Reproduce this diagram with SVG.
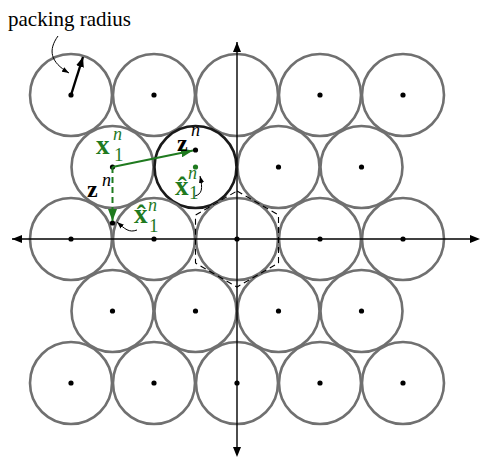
<svg xmlns="http://www.w3.org/2000/svg" width="491" height="468" viewBox="0 0 491 468">
<defs>
<style>
.c{fill:none;stroke:#707070;stroke-width:2.6}
.hl{fill:none;stroke:#1a1a1a;stroke-width:2.6}
.d{fill:#000}
.ax{stroke:#000;stroke-width:1.4;fill:none}
text{font-family:"Liberation Serif","Times New Roman","DejaVu Serif",serif}
.lbl{font-size:21px;fill:#000}
.m{font-weight:bold;font-size:27px}
.mz{font-weight:bold;font-size:24px}
.g{fill:#1f7a1f}
.k{fill:#000}
.sup{font-style:italic;font-size:18px}
.sub{font-size:19px}
</style>
<marker id="ah" viewBox="0 0 10 8" refX="10" refY="4" markerWidth="10" markerHeight="8" markerUnits="userSpaceOnUse" orient="auto"><path d="M0,0 L10,4 L0,8 Z" fill="#000"/></marker>
<marker id="ahs" viewBox="0 0 8 6" refX="8" refY="3" markerWidth="7" markerHeight="6" markerUnits="userSpaceOnUse" orient="auto"><path d="M0,0 L8,3 L0,6 Z" fill="#000"/></marker>
<marker id="ahg" viewBox="0 0 12 9" refX="12" refY="4.5" markerWidth="12" markerHeight="9" markerUnits="userSpaceOnUse" orient="auto"><path d="M0,0 L12,4.5 L0,9 Z" fill="#1f7a1f"/></marker>
</defs>

<g id="lattice">
<g id="row1">
<circle class="c" cx="71" cy="95" r="41"/><circle class="c" cx="154" cy="95" r="41"/><circle class="c" cx="237" cy="95" r="41"/><circle class="c" cx="320" cy="95" r="41"/><circle class="c" cx="403" cy="95" r="41"/>
</g>
<g id="row2">
<circle class="c" cx="112.5" cy="167" r="41"/><circle class="hl" cx="195.5" cy="167" r="41"/><circle class="c" cx="278.5" cy="167" r="41"/><circle class="c" cx="361.5" cy="167" r="41"/>
</g>
<g id="row3">
<circle class="c" cx="71" cy="239" r="41"/><circle class="c" cx="154" cy="239" r="41"/><circle class="c" cx="237" cy="239" r="41"/><circle class="c" cx="320" cy="239" r="41"/><circle class="c" cx="403" cy="239" r="41"/>
</g>
<g id="row4">
<circle class="c" cx="112.5" cy="311" r="41"/><circle class="c" cx="195.5" cy="311" r="41"/><circle class="c" cx="278.5" cy="311" r="41"/><circle class="c" cx="361.5" cy="311" r="41"/>
</g>
<g id="row5">
<circle class="c" cx="71" cy="383" r="41"/><circle class="c" cx="154" cy="383" r="41"/><circle class="c" cx="237" cy="383" r="41"/><circle class="c" cx="320" cy="383" r="41"/><circle class="c" cx="403" cy="383" r="41"/>
</g>
</g>

<g id="voronoi">
<polygon points="237,191 278.5,215 278.5,263 237,287 195.5,263 195.5,215" fill="none" stroke="#000" stroke-width="1.1" stroke-dasharray="6,4"/>
</g>

<g id="axes">
<line class="ax" x1="470" y1="239" x2="12" y2="239" marker-end="url(#ah)"/>
<line class="ax" x1="237" y1="447" x2="237" y2="42" marker-end="url(#ah)"/>
<path d="M480,239 L470,235 L470,243 Z" fill="#000"/>
<path d="M237,457 L233,447 L241,447 Z" fill="#000"/>
</g>

<g id="dots">
<circle class="d" cx="71" cy="95" r="2.6"/><circle class="d" cx="154" cy="95" r="2.6"/><circle class="d" cx="320" cy="95" r="2.6"/><circle class="d" cx="403" cy="95" r="2.6"/>
<circle class="d" cx="112.5" cy="167" r="2.6"/><circle cx="195.5" cy="167" r="2.6" fill="#1f7a1f"/><circle class="d" cx="278.5" cy="167" r="2.6"/><circle class="d" cx="361.5" cy="167" r="2.6"/>
<circle class="d" cx="71" cy="239" r="2.6"/><circle class="d" cx="154" cy="239" r="2.6"/><circle class="d" cx="237" cy="239" r="2.6"/><circle class="d" cx="320" cy="239" r="2.6"/><circle class="d" cx="403" cy="239" r="2.6"/>
<circle class="d" cx="112.5" cy="311" r="2.6"/><circle class="d" cx="195.5" cy="311" r="2.6"/><circle class="d" cx="278.5" cy="311" r="2.6"/><circle class="d" cx="361.5" cy="311" r="2.6"/>
<circle class="d" cx="71" cy="383" r="2.6"/><circle class="d" cx="154" cy="383" r="2.6"/><circle class="d" cx="237" cy="383" r="2.6"/><circle class="d" cx="320" cy="383" r="2.6"/><circle class="d" cx="403" cy="383" r="2.6"/>
<circle class="d" cx="195.5" cy="150" r="2.6"/>
<circle class="d" cx="112.5" cy="223" r="2.6"/>
</g>

<g id="connectors">
<line x1="71" y1="95" x2="83" y2="57" stroke="#000" stroke-width="2.4" marker-end="url(#ah)"/>
<path d="M58,36 C48,50 50,62 69,73" fill="none" stroke="#000" stroke-width="1" marker-end="url(#ahs)"/>
<line x1="112.5" y1="167" x2="193" y2="150.5" stroke="#1f7a1f" stroke-width="2" marker-end="url(#ahg)"/>
<line x1="112.5" y1="167" x2="112.5" y2="221" stroke="#1f7a1f" stroke-width="2" stroke-dasharray="6,4" marker-end="url(#ahg)"/>
<path d="M195,196 C202,194 203,189 200,176" fill="none" stroke="#000" stroke-width="1" marker-end="url(#ahs)"/>
<path d="M137,230 C129,233 125,229 117,222" fill="none" stroke="#000" stroke-width="1" marker-end="url(#ahs)"/>
</g>

<g id="labels">
<text class="lbl" x="8" y="26">packing radius</text>
<text x="96" y="154" class="m g">x</text><text x="113" y="140" class="sup g">n</text><text x="114" y="161" class="sub g">1</text>
<text x="87" y="197" class="mz k">z</text><text x="102" y="186" class="sup k">n</text>
<text x="177" y="151" class="mz k">z</text><text x="191" y="136" class="sup k">n</text>
<text x="175" y="195" class="m g">x&#x0302;</text><text x="188" y="179" class="sup g">n</text><text x="189" y="199" class="sub g">1</text>
<text x="134" y="223" class="m g">x&#x0302;</text><text x="148" y="211" class="sup g">n</text><text x="149" y="232" class="sub g">1</text>
</g>
</svg>
